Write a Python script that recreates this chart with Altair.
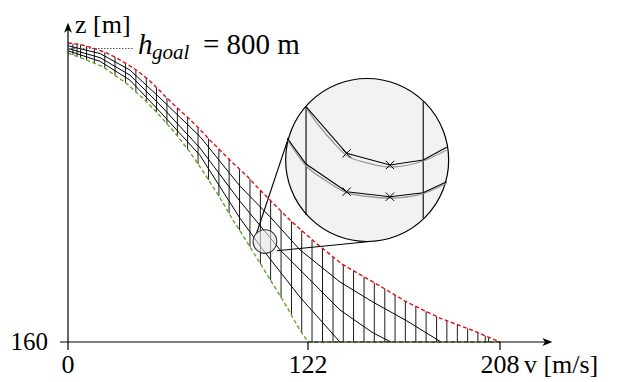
import altair as alt
import pandas as pd
import numpy as np

# ---------------- data (v in m/s, z in m) ----------------
red_v = [0, 6.1, 12.7, 19.8, 24.9, 30.0, 35.1, 41.7, 47.8, 53.4, 60.5, 66.1, 72.2, 78.3, 83.9,
         91.0, 96.1, 101.2, 112.8, 126.0, 137.2, 151.1, 166.3, 181.1, 195.9, 208]
red_z = [812, 809, 801, 790, 779, 766, 752, 729, 703, 679, 651, 628, 600, 574, 550,
         522, 498, 476, 426, 374, 330, 291, 247, 212, 185, 160]

green_v = [0, 7.6, 17.8, 30.0, 40.2, 47.8, 54.4, 62.0, 69.6, 77.3, 83.9, 91.0, 97.6,
           104.2, 111.3, 117.9, 122, 208]
green_z = [790, 778, 760, 723, 683, 648, 616, 574, 526, 474, 426, 378, 332,
           286, 236, 186, 160, 160]

trajA_v = [0, 16.3, 31.5, 46.8, 67.1, 87.4, 102.7, 117.9, 136.3, 151.1, 166.3, 181.6]
trajA_z = [806, 789, 753, 692, 608, 500, 433, 361, 291, 247, 206, 160]
trajB_v = [0, 16.3, 31.5, 46.8, 67.1, 87.4, 107.8, 136.3, 143.9, 151.1, 159.2]
trajB_z = [800, 780, 742, 677, 583, 467, 361, 230, 204, 180, 160]
trajC_v = [0, 16.3, 31.5, 46.8, 67.1, 87.4, 99.1, 117.9, 136.3]
trajC_z = [795, 772, 731, 662, 567, 430, 361, 258, 160]

grid_v = [2.5, 4.6, 6.4, 9.4, 13.4, 18.7, 23.9, 29.2, 34.5, 39.8, 45.0, 50.3, 55.6, 60.8,
          66.1, 71.4, 76.7, 81.9, 87.2, 92.5, 97.8, 103.0, 108.3, 113.6, 118.8, 123.8,
          128.5, 133.2, 137.8, 142.4, 147.1, 151.7, 156.4, 161.0, 165.6, 170.3, 174.9,
          179.6, 184.2, 188.9, 193.5, 198.1, 201.4, 202.9]

# magnified detail
zoom_up_v = [121.0, 139.3, 158.7, 173.6, 184.1]
zoom_up_z = [673.1, 571.5, 546.0, 556.9, 584.6]
zoom_up_gray_v = [121.3, 127.4, 133.2, 139.3, 148.9, 158.7, 173.6, 184.1]
zoom_up_gray_z = [669.2, 628.8, 596.1, 566.7, 550.3, 541.6, 554.7, 578.7]
zoom_lo_v = [111.5, 121.0, 139.3, 158.7, 173.6, 184.1]
zoom_lo_z = [604.2, 548.1, 487.7, 476.8, 485.6, 509.5]
zoom_lo_gray_v = [111.8, 121.3, 129.6, 139.3, 148.9, 158.7, 173.6, 184.1]
zoom_lo_gray_z = [599.0, 542.7, 513.3, 485.6, 477.3, 474.0, 483.8, 506.1]
cross_v = [139.3, 158.7, 139.3, 158.7]
cross_z = [571.5, 546.0, 487.7, 476.8]
zoom_vert_v = [121.0, 173.6]
zoom_vert_lo = [436.9, 429.7]
zoom_vert_hi = [673.1, 684.0]

lens_small = (100.1, 379.1)
lens_big = (148.5, 556.9)
conn_v1 = [95.9, 106.1]
conn_z1 = [397.7, 359.1]
conn_v2 = [112.0, 149.8]
conn_z2 = [604.2, 379.1]

h_goal = 800
x_ticks = [0, 122, 208]
x_tick_labels = ["0", "122", "208"]
y_tick = 160

# ---------------- scales ----------------
xs = alt.Scale(domain=[0, 122, 208], range=[0, 240, 432], nice=False, zero=False)
ys = alt.Scale(domain=[160, 800], range=[334, 40.5], nice=False, zero=False)


def X(f="v"):
    return alt.X(f, type="quantitative", scale=xs, axis=None)


def Y(f="z"):
    return alt.Y(f, type="quantitative", scale=ys, axis=None)


def line(v, z, **mk):
    df = pd.DataFrame({"v": v, "z": z, "i": list(range(len(v)))})
    return alt.Chart(df).mark_line(**mk).encode(x=X(), y=Y(), order="i:Q")


def text(v, z, t, **mk):
    df = pd.DataFrame({"v": [v], "z": [z], "t": [t]})
    return alt.Chart(df).mark_text(font=FONT, color="black", **mk).encode(
        x=X(), y=Y(), text="t:N")


FONT = "Liberation Serif"
layers = []

# vertical grid lines between envelopes
gv = np.array(grid_v)
grid_df = pd.DataFrame({
    "v": gv,
    "zb": np.interp(gv, green_v, green_z),
    "zt": np.interp(gv, red_v, red_z),
})
layers.append(alt.Chart(grid_df).mark_rule(color="black", strokeWidth=0.9).encode(
    x=X(), y=Y("zb"), y2="zt"))

# trajectories
for tv, tz in [(trajA_v, trajA_z), (trajB_v, trajB_z), (trajC_v, trajC_z)]:
    layers.append(line(tv, tz, color="black", strokeWidth=1.0))

# envelopes
layers.append(line(green_v, green_z, color="#5fa82a", strokeWidth=1.4, strokeDash=[4, 2.5]))
layers.append(line(red_v, red_z, color="#e01010", strokeWidth=1.4, strokeDash=[4, 2.5]))

# axes
ax_df = pd.DataFrame({"v": [-4.1], "v2": [229.0], "z": [y_tick]})
layers.append(alt.Chart(ax_df).mark_rule(color="black", strokeWidth=1.2).encode(
    x=X(), x2="v2", y=Y()))
ay_df = pd.DataFrame({"v": [0], "z": [142.6], "z2": [845.0]})
layers.append(alt.Chart(ay_df).mark_rule(color="black", strokeWidth=1.2).encode(
    x=X(), y=Y(), y2="z2"))
tk_df = pd.DataFrame({"v": x_ticks[1:], "z": [142.6, 142.6], "z2": [y_tick, y_tick]})
layers.append(alt.Chart(tk_df).mark_rule(color="black", strokeWidth=1.2).encode(
    x=X(), y=Y(), y2="z2"))
arrow_r = pd.DataFrame({"v": [229.1], "z": [y_tick]})
layers.append(alt.Chart(arrow_r).mark_point(
    shape="M1,0L-0.9,0.75L-0.4,0L-0.9,-0.75Z", size=110, filled=True, color="black",
    opacity=1).encode(x=X(), y=Y()))
arrow_u = pd.DataFrame({"v": [0], "z": [844.7]})
layers.append(alt.Chart(arrow_u).mark_point(
    shape="M0,-1L0.75,0.9L0,0.4L-0.75,0.9Z", size=110, filled=True, color="black",
    opacity=1).encode(x=X(), y=Y()))

# start marker
layers.append(alt.Chart(pd.DataFrame({"v": [0], "z": [797], "z2": [811]})).mark_rule(
    color="#3050c0", strokeWidth=1.4).encode(x=X(), y=Y(), y2="z2"))

# h_goal dotted line
layers.append(alt.Chart(pd.DataFrame({"v": [0], "v2": [33.0], "z": [h_goal]})).mark_rule(
    color="#444444", strokeWidth=0.9, strokeDash=[1.5, 1.5]).encode(x=X(), x2="v2", y=Y()))

# lens: small circle, connectors, big circle
layers.append(alt.Chart(pd.DataFrame({"v": conn_v1, "z": conn_z1, "v2": conn_v2, "z2": conn_z2}))
              .mark_rule(color="black", strokeWidth=1.1).encode(x=X(), y=Y(), x2="v2", y2="z2"))
layers.append(alt.Chart(pd.DataFrame({"v": [lens_small[0]], "z": [lens_small[1]]})).mark_point(
    shape="circle", size=560, filled=True, fill="#e4e4e4", fillOpacity=0.6, stroke="#333333",
    strokeWidth=1.1, strokeOpacity=1, opacity=1).encode(x=X(), y=Y()))
layers.append(alt.Chart(pd.DataFrame({"v": [lens_big[0]], "z": [lens_big[1]]})).mark_point(
    shape="circle", size=26569, filled=True, fill="#f2f2f2", fillOpacity=1, stroke="black",
    strokeWidth=1.2, strokeOpacity=1, opacity=1).encode(x=X(), y=Y()))

# inside lens
layers.append(alt.Chart(pd.DataFrame({"v": zoom_vert_v, "z": zoom_vert_lo, "z2": zoom_vert_hi}))
              .mark_rule(color="black", strokeWidth=1.1).encode(x=X(), y=Y(), y2="z2"))
layers.append(line(zoom_up_gray_v, zoom_up_gray_z, color="#9a9a9a", strokeWidth=1.3,
                   interpolate="monotone"))
layers.append(line(zoom_lo_gray_v, zoom_lo_gray_z, color="#9a9a9a", strokeWidth=1.3,
                   interpolate="monotone"))
layers.append(line(zoom_up_v, zoom_up_z, color="black", strokeWidth=1.1))
layers.append(line(zoom_lo_v, zoom_lo_z, color="black", strokeWidth=1.1))
layers.append(alt.Chart(pd.DataFrame({"v": cross_v, "z": cross_z})).mark_point(
    shape="M-1,-1L1,1M-1,1L1,-1", size=70, filled=False, stroke="black", strokeWidth=1.0,
    opacity=1).encode(x=X(), y=Y()))

# texts
LAB_Z = 93.0
lab = pd.DataFrame({"v": x_ticks, "z": [LAB_Z] * 3, "t": x_tick_labels})
layers.append(alt.Chart(lab).mark_text(font=FONT, fontSize=26, align="center",
                                        baseline="alphabetic", color="black").encode(
    x=X(), y=Y(), text="t:N"))
layers.append(text(218.7, LAB_Z, "v [m/s]", fontSize=26, align="left", baseline="alphabetic"))
layers.append(text(-10.2, y_tick, str(y_tick), fontSize=25, align="right", baseline="middle"))
layers.append(text(3.6, 834, "z [m]", fontSize=26, align="left", baseline="alphabetic"))
layers.append(text(35.6, 788, "h", fontSize=29, fontStyle="italic", align="left",
                   baseline="alphabetic"))
layers.append(text(42.7, 777, "goal", fontSize=21, fontStyle="italic", align="left",
                   baseline="alphabetic"))
layers.append(text(68.6, 788, "= " + str(h_goal) + " m", fontSize=29, align="left",
                   baseline="alphabetic"))

chart = alt.layer(*layers).properties(
    width=542, height=372, padding={"left": 60, "top": 0, "right": 0, "bottom": 0},
    autosize=alt.AutoSizeParams(type="none"), background="white"
).configure_view(stroke=None)

chart.save("out.html", embed_options={"renderer": "svg", "actions": False})
